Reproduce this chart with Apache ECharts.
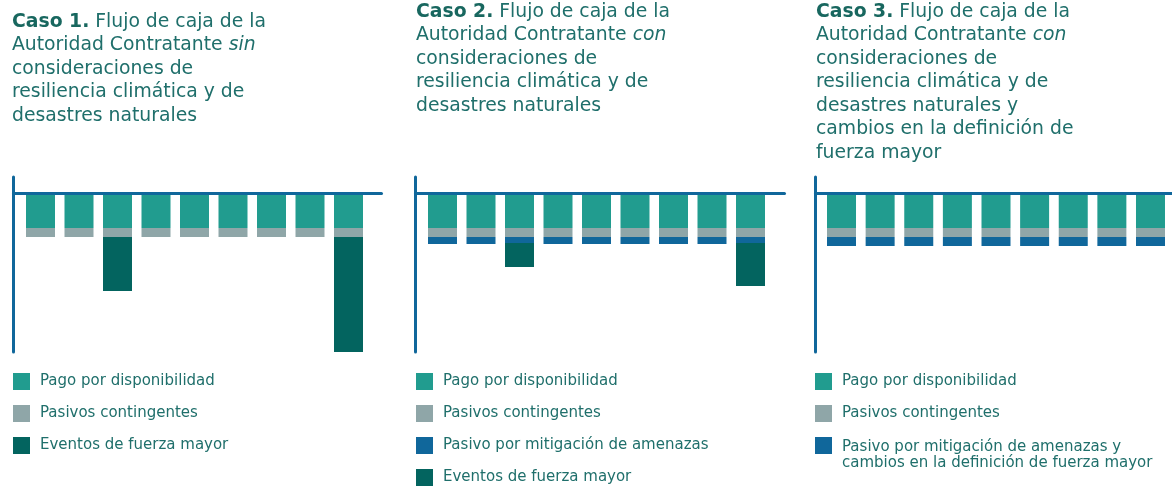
<!DOCTYPE html>
<html>
<head>
<meta charset="utf-8">
<script src="https://cdn.jsdelivr.net/npm/echarts@6/dist/echarts.min.js"></script>
<style>
	html, body { margin: 0; padding: 0; background: #fff; }
	#main { width: 1172px; height: 486px; }
</style>
</head>
<body>
<div id="main"></div>
<script>
// periodos (sin etiquetas en el original)
var periodos = ['1', '2', '3', '4', '5', '6', '7', '8', '9'];

// Caso 1
var pago1 = [-35, -35, -35, -35, -35, -35, -35, -35, -35];
var pasivos1 = [-9, -9, -9, -9, -9, -9, -9, -9, -9];
var eventos1 = ['-', '-', -54, '-', '-', '-', '-', '-', -115];

// Caso 2
var pago2 = [-35, -35, -35, -35, -35, -35, -35, -35, -35];
var pasivos2 = [-9, -9, -9, -9, -9, -9, -9, -9, -9];
var mitig2 = [-7, -7, -6, -7, -7, -7, -7, -7, -6];
var eventos2 = ['-', '-', -24, '-', '-', '-', '-', '-', -43];

// Caso 3
var pago3 = [-35, -35, -35, -35, -35, -35, -35, -35, -35];
var pasivos3 = [-9, -9, -9, -9, -9, -9, -9, -9, -9];
var mitig3 = [-9, -9, -9, -9, -9, -9, -9, -9, -9];

var nPago = 'Pago por disponibilidad';
var nPasivos = 'Pasivos contingentes';
var nMitig = 'Pasivo por mitigación de amenazas';
var nMitig3 = 'Pasivo por mitigación de amenazas y\ncambios en la definición de fuerza mayor';
var nEventos = 'Eventos de fuerza mayor';

var cPago = '#219c8f', cPasivos = '#8fa6a8', cMitig = '#10679b', cEventos = '#03645f';
var cAxis = '#10679b', cText = '#1f6f6b';
var fontFam = '"DejaVu Sans", sans-serif';
var yMin = -159, yMax = 16;

function barra(name, vals, color, idx) {
	return {
		name: name,
		type: 'bar',
		stack: 'caso' + idx,
		xAxisIndex: idx,
		yAxisIndex: idx,
		barWidth: 29,
		itemStyle: { color: color },
		data: vals
	};
}

// grids 0-2: barras; grids 3-5: solo las lineas de los ejes
var grids = [
	{ left: 21.25, top: 177, width: 346.5, height: 175 },
	{ left: 423.25, top: 177, width: 346.5, height: 175 },
	{ left: 822.2, top: 177, width: 347.6, height: 175 },
	{ left: 13.5, top: 177, width: 368, height: 175 },
	{ left: 415.5, top: 177, width: 369, height: 175 },
	{ left: 815.5, top: 177, width: 360, height: 175 }
];

var xAxes = [], yAxes = [];
for (var g = 0; g < 3; g++) {
	xAxes.push({ type: 'category', gridIndex: g, data: periodos, show: false });
	yAxes.push({ type: 'value', gridIndex: g, min: yMin, max: yMax, show: false });
}
for (var g = 3; g < 6; g++) {
	xAxes.push({
		type: 'value', gridIndex: g, min: 0, max: 1, z: 10,
		axisLine: { show: true, onZero: true, lineStyle: { color: cAxis, width: 3 } },
		axisTick: { show: false }, axisLabel: { show: false }, splitLine: { show: false }
	});
	yAxes.push({
		type: 'value', gridIndex: g, min: yMin, max: yMax, z: 10,
		axisLine: { show: true, onZero: false, lineStyle: { color: cAxis, width: 3 } },
		axisTick: { show: false }, axisLabel: { show: false }, splitLine: { show: false }
	});
}

var tSize = 18.8;
var titleRich = {
	b: { fontWeight: 'bold', fontSize: tSize, color: '#18675f', fontFamily: fontFam, lineHeight: 23.5 },
	i: { fontStyle: 'italic', fontSize: tSize, color: cText, fontFamily: fontFam, lineHeight: 23.5 }
};
function titulo(text, left, top) {
	return {
		text: text, left: left, top: top, padding: 0,
		textStyle: { fontSize: tSize, fontWeight: 'normal', color: cText, fontFamily: fontFam, lineHeight: 23.5, rich: titleRich }
	};
}

function leyenda(data, left, top) {
	return {
		data: data, left: left, top: top, orient: 'vertical', padding: 0, height: 140,
		icon: 'rect', itemWidth: 17, itemHeight: 17, itemGap: 15,
		selectedMode: false,
		textStyle: { fontSize: 15, lineHeight: 17, color: cText, fontFamily: fontFam, padding: [0, 0, 0, 5] }
	};
}

var myChart = echarts.init(document.getElementById('main'));
var leyenda3b = leyenda([nMitig3], 815, 437);
// icono cuadrado alineado con la primera linea del texto
leyenda3b.icon = 'path://M0,0H17V17H0Z M0,36.99H0.01V37H0Z';
leyenda3b.itemHeight = 37;
leyenda3b.textStyle.lineHeight = 16;

var option = {
	animation: false,
	title: [
		titulo('{b|Caso 1.} Flujo de caja de la\nAutoridad Contratante {i|sin}\nconsideraciones de\nresiliencia climática y de\ndesastres naturales', 12, 10),
		titulo('{b|Caso 2.} Flujo de caja de la\nAutoridad Contratante {i|con}\nconsideraciones de\nresiliencia climática y de\ndesastres naturales', 416, 0),
		titulo('{b|Caso 3.} Flujo de caja de la\nAutoridad Contratante {i|con}\nconsideraciones de\nresiliencia climática y de\ndesastres naturales y\ncambios en la definición de\nfuerza mayor', 816, 0)
	],
	legend: [
		leyenda([nPago, nPasivos, nEventos], 13, 373),
		leyenda([nPago, nPasivos, nMitig, nEventos], 416, 373),
		leyenda([nPago, nPasivos], 815, 373),
		leyenda3b
	],
	grid: grids,
	xAxis: xAxes,
	yAxis: yAxes,
	series: [
		barra(nPago, pago1, cPago, 0),
		barra(nPasivos, pasivos1, cPasivos, 0),
		barra(nEventos, eventos1, cEventos, 0),
		barra(nPago, pago2, cPago, 1),
		barra(nPasivos, pasivos2, cPasivos, 1),
		barra(nMitig, mitig2, cMitig, 1),
		barra(nEventos, eventos2, cEventos, 1),
		barra(nPago, pago3, cPago, 2),
		barra(nPasivos, pasivos3, cPasivos, 2),
		barra(nMitig3, mitig3, cMitig, 2)
	]
};
myChart.setOption(option);
window.addEventListener("resize", function () {
	myChart.resize();
});
</script>
</body>
</html>
